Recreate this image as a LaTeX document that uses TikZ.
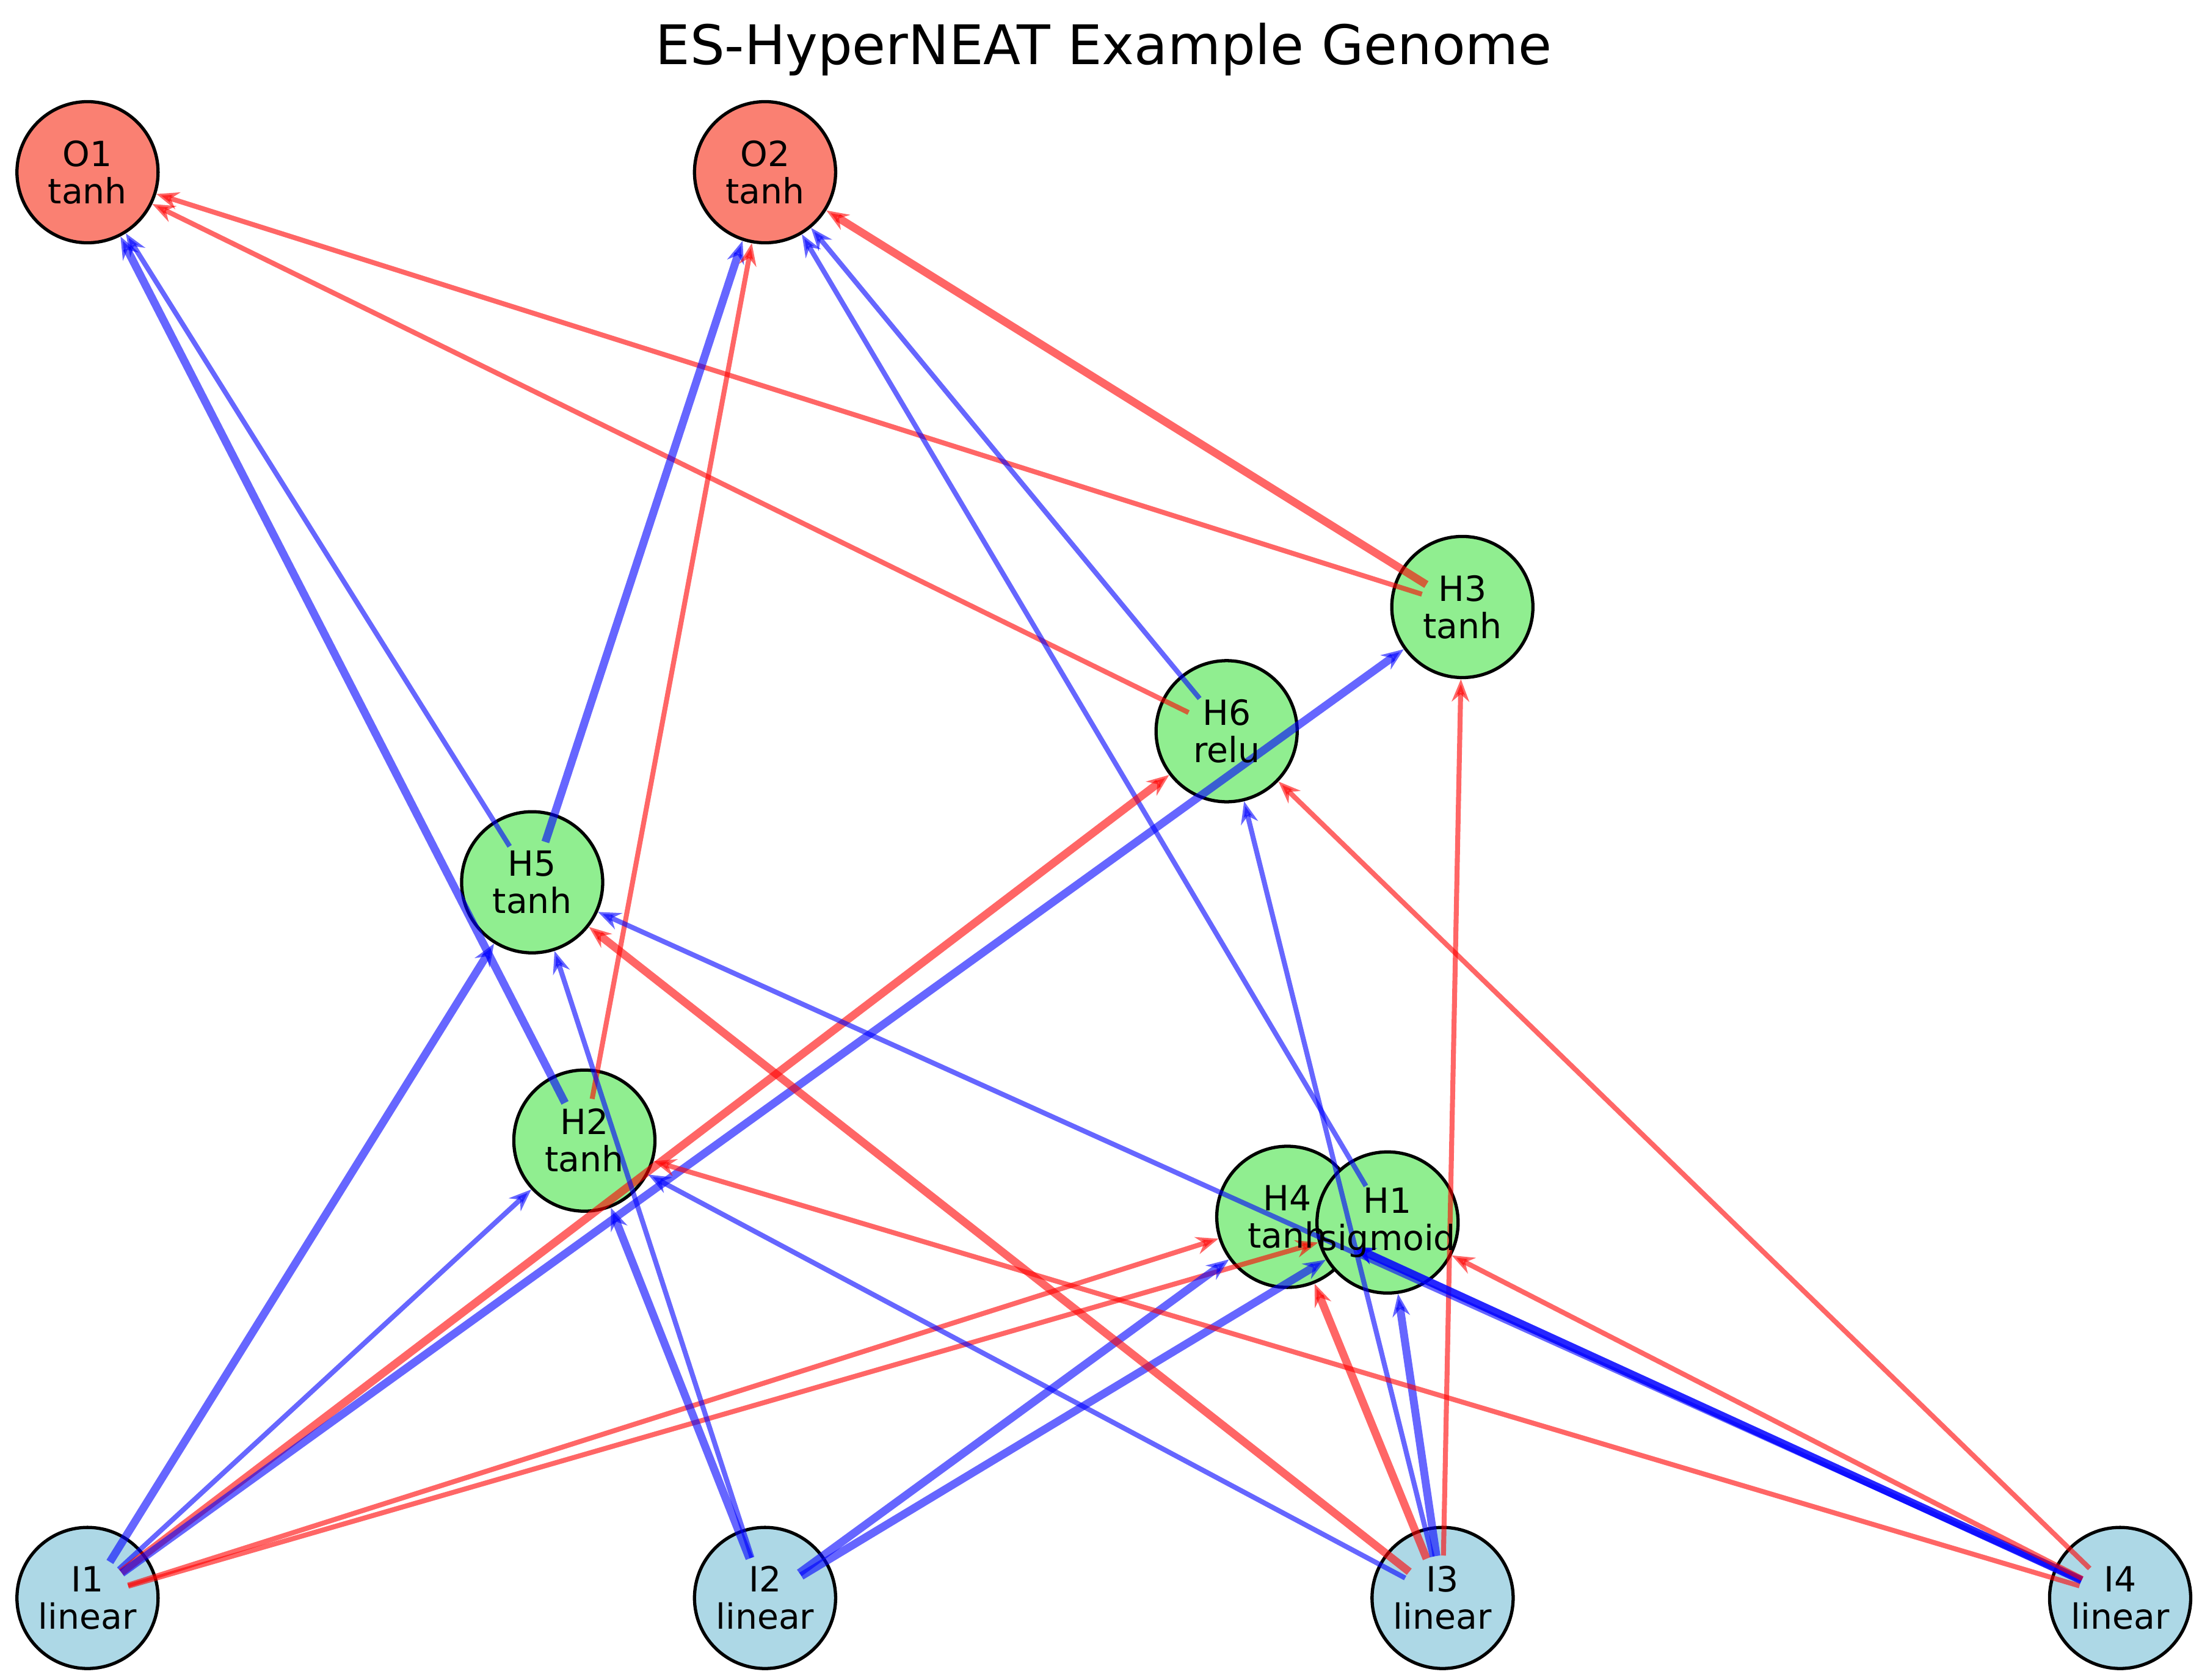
\documentclass[tikz,border=0pt]{standalone}
\usepackage{fontspec}
\setmainfont{DejaVu Sans}
\usetikzlibrary{arrows.meta}
\definecolor{salmon}{RGB}{250,128,114}
\definecolor{lgreen}{RGB}{144,238,144}
\definecolor{lblue}{RGB}{173,216,230}
\begin{document}
\begin{tikzpicture}[x=0.02cm,y=-0.02cm,
  circ/.style={circle,draw=black,line width=1.3pt,minimum size=2.0cm,inner sep=0pt},
  lab/.style={align=center,font=\fontsize{14}{15}\selectfont,inner sep=0pt},
  e/.style={-{Stealth[length=9pt,width=7pt]},opacity=0.6,shorten <=-12pt},
  r/.style={e,draw=red,line width=2pt},
  R/.style={e,draw=red,line width=3.2pt},
  b/.style={e,draw=blue,line width=2pt},
  B/.style={e,draw=blue,line width=3.2pt}]
\useasboundingbox (0,0) rectangle (1560,1190);
\node[font=\fontsize{22}{24}\selectfont] (title) at (782,35) {ES-HyperNEAT Example Genome};
\node[circ,fill=salmon] (O1) at (62,122) {};
\node[circ,fill=salmon] (O2) at (542,122) {};
\node[circ,fill=lgreen] (H3) at (1036,430) {};
\node[circ,fill=lgreen] (H6) at (869,518) {};
\node[circ,fill=lgreen] (H5) at (377,625) {};
\node[circ,fill=lgreen] (H2) at (414,808) {};
\node[circ,fill=lgreen] (H4) at (912,862) {};
\node[circ,fill=lgreen] (H1) at (983,866) {};
\node[circ,fill=lblue] (I1) at (62,1132) {};
\node[circ,fill=lblue] (I2) at (542,1132) {};
\node[circ,fill=lblue] (I3) at (1022,1132) {};
\node[circ,fill=lblue] (I4) at (1502,1132) {};
% edges
\draw[B] (H2) -- (O1);
\draw[b] (H5) -- (O1);
\draw[r] (H3) -- (O1);
\draw[r] (H6) -- (O1);
\draw[B] (H5) -- (O2);
\draw[r] (H2) -- (O2);
\draw[b] (H6) -- (O2);
\draw[b] (H1) -- (O2);
\draw[R] (H3) -- (O2);
\draw[B] (I1) -- (H5);
\draw[b] (I1) -- (H2);
\draw[R] (I1) -- (H6);
\draw[B] (I1) -- (H3);
\draw[r] (I1) -- (H4);
\draw[r] (I1) -- (H1);
\draw[B] (I2) -- (H2);
\draw[b] (I2) -- (H5);
\draw[B] (I2) -- (H4);
\draw[B] (I2) -- (H1);
\draw[R] (I3) -- (H5);
\draw[b] (I3) -- (H2);
\draw[R] (I3) -- (H4);
\draw[B] (I3) -- (H1);
\draw[b] (I3) -- (H6);
\draw[r] (I3) -- (H3);
\draw[b] (I4) -- (H5);
\draw[r] (I4) -- (H2);
\draw[r] (I4) -- (H6);
\draw[e,draw=blue,line width=3.2pt,opacity=0.85] (I4) -- (H4);
\draw[r] (I4) -- (H1);
% labels
\foreach \n/\t in {O1/tanh,O2/tanh,H3/tanh,H6/relu,H5/tanh,H2/tanh,H4/tanh,H1/sigmoid,I1/linear,I2/linear,I3/linear,I4/linear}
  \node[lab] at (\n) {\n\\\t};
\end{tikzpicture}
\end{document}
